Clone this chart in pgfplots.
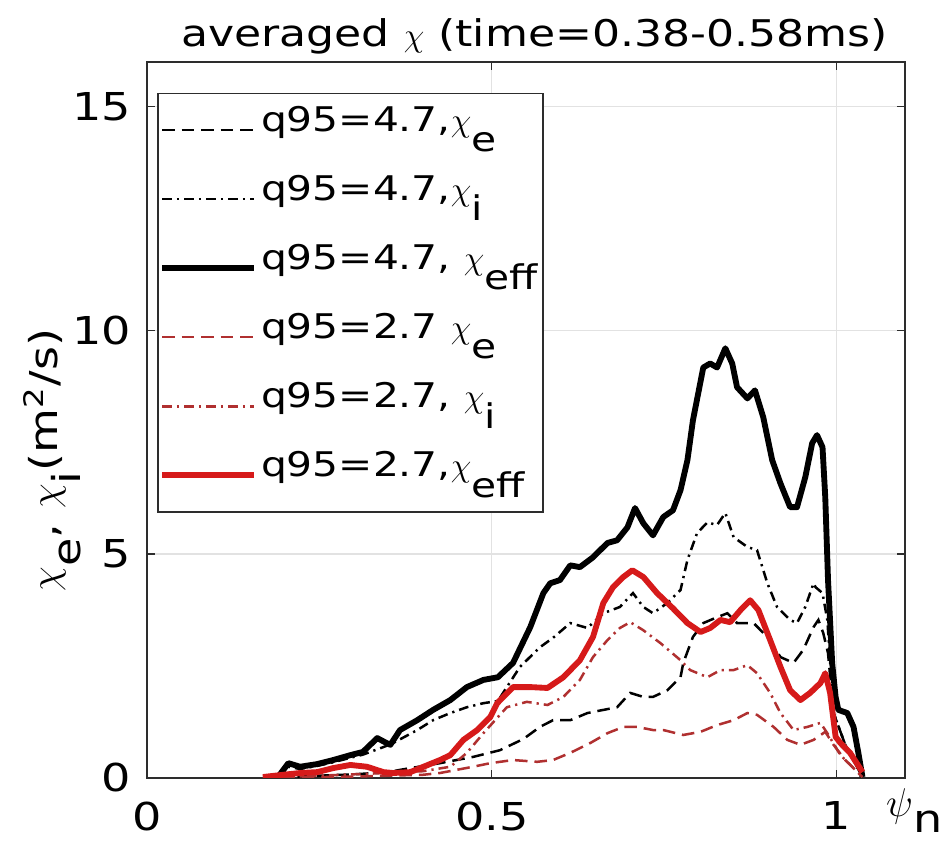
\documentclass[border=0pt]{standalone}
\usepackage{fontspec}
\setmainfont{DejaVu Sans}[FakeStretch=1.2]
\usepackage{pgfplots}
\pgfplotsset{compat=1.18}
\definecolor{myred}{RGB}{214,26,26}
\definecolor{mydred}{RGB}{176,48,48}
\definecolor{gridc}{RGB}{226,226,226}
\definecolor{axc}{RGB}{45,45,45}
\newcommand\sub[1]{\raisebox{-0.6em}{#1}}
\newcommand\fa{\fontsize{13.8}{15}\selectfont}
\newcommand\fl{\fontsize{12.2}{13.5}\selectfont}
\begin{document}
\begin{tikzpicture}
\useasboundingbox (-52.8pt,-23.7pt) rectangle (287.2pt,279.3pt);
\begin{axis}[
  scale only axis, width=272.2pt, height=257.1pt,
  xmin=0, xmax=1.1, ymin=0, ymax=16,
  xtick={0,0.5,1}, xticklabels={0,0.5,1},
  ytick={0,5,10,15}, yticklabels={0,5,10,15},
  /pgf/number format/assume math mode=true,
  tick label style={font=\fa},
  tick align=inside, major tick length=3pt,
  grid=major, major grid style={gridc, line width=0.5pt},
  axis line style={axc, line width=0.6pt},
  every tick/.style={axc, line width=0.5pt},
  xticklabel style={yshift=-5pt},
  yticklabel style={xshift=-2.2pt},
  title={averaged $\chi$ (time=0.38-0.58ms)},
  title style={font=\fontsize{13.2}{15}\selectfont, at={(0.5,1)}, anchor=base, yshift=-0.6pt, xshift=3pt},
  ylabel={$\chi$\sub{e}, $\chi$\sub{i}(m\textsuperscript{2}/s)},
  ylabel style={font=\fa, at={(rel axis cs:0,0.444)}, anchor=center, yshift=34pt},
  xlabel={$\psi$\raisebox{-0.42em}{n}},
  xlabel style={font=\fa, at={(rel axis cs:0.974,0)}, anchor=north west, inner sep=0pt, yshift=-3.5pt},
  legend style={at={(rel axis cs:0.013,0.957)}, anchor=north west, draw=axc, line width=0.6pt,
    font=\fl, inner xsep=0.5pt, inner ysep=5pt, row sep=8.6pt,
    nodes={inner ysep=0pt, inner xsep=1.5pt, text height=8.6pt, text depth=7.6pt}},
  legend cell align=left,
  legend image code/.code={\draw[#1] (0pt,0pt) -- (33pt,0pt);},
]
\addplot[black, line width=0.9pt, dash pattern=on 4.5pt off 2.5pt] coordinates {
(0.19,0.0) (0.25,0.05) (0.30,0.08) (0.35,0.13) (0.367,0.18) (0.425,0.33) (0.473,0.47)
(0.512,0.62) (0.546,0.87) (0.570,1.14) (0.589,1.29) (0.614,1.29) (0.639,1.45) (0.662,1.52)
(0.682,1.58) (0.701,1.90) (0.720,1.81) (0.734,1.81) (0.755,1.96) (0.774,2.25) (0.778,2.57)
(0.792,3.15) (0.807,3.46) (0.827,3.59) (0.842,3.68) (0.856,3.46) (0.880,3.46) (0.900,3.15)
(0.919,2.70) (0.938,2.57) (0.952,2.86) (0.967,3.37) (0.974,3.53) (0.981,3.24) (0.988,2.79)
(0.996,1.45) (1.013,0.74) (1.038,0.02)};
\addlegendentry{q95=4.7,$\chi$\sub{e}}
\addplot[black, line width=0.9pt, dash pattern=on 3.5pt off 1.8pt on 0.8pt off 1.8pt] coordinates {
(0.19,0.0) (0.205,0.25) (0.222,0.2) (0.247,0.27) (0.27,0.35) (0.295,0.45) (0.313,0.52)
(0.343,0.69) (0.357,0.78) (0.392,1.07) (0.415,1.29) (0.440,1.45) (0.464,1.58) (0.488,1.67)
(0.509,1.72) (0.541,2.48) (0.570,2.92) (0.589,3.13) (0.614,3.46) (0.639,3.35) (0.662,3.68)
(0.686,3.82) (0.705,4.13) (0.720,3.82) (0.734,3.68) (0.755,3.91) (0.774,4.20) (0.784,4.87)
(0.798,5.47) (0.813,5.71) (0.827,5.65) (0.839,5.92) (0.851,5.38) (0.871,5.16) (0.885,5.09)
(0.900,4.35) (0.914,3.82) (0.933,3.53) (0.943,3.46) (0.955,3.82) (0.967,4.35) (0.970,4.26)
(0.980,4.13) (0.987,3.53) (0.996,1.45) (1.013,0.74) (1.038,0.02)};
\addlegendentry{q95=4.7,$\chi$\sub{i}}
\addplot[black, line width=2.1pt, line join=round] coordinates {
(0.190,0.02) (0.205,0.33) (0.222,0.25) (0.247,0.31) (0.270,0.40) (0.295,0.51) (0.313,0.58)
(0.334,0.89) (0.345,0.80) (0.353,0.74) (0.367,1.07) (0.392,1.29) (0.415,1.52) (0.440,1.74)
(0.464,2.03) (0.488,2.19) (0.509,2.25) (0.531,2.57) (0.556,3.37) (0.575,4.13) (0.585,4.35)
(0.599,4.42) (0.614,4.75) (0.628,4.71) (0.647,4.93) (0.668,5.25) (0.682,5.31) (0.697,5.60)
(0.708,6.03) (0.720,5.69) (0.734,5.42) (0.749,5.83) (0.763,5.98) (0.774,6.43) (0.784,7.10)
(0.792,7.99) (0.807,9.17) (0.817,9.26) (0.827,9.17) (0.839,9.60) (0.849,9.26) (0.856,8.73)
(0.871,8.48) (0.882,8.66) (0.894,8.06) (0.907,7.10) (0.919,6.58) (0.933,6.05) (0.943,6.05)
(0.955,6.72) (0.965,7.48) (0.972,7.66) (0.980,7.39) (0.984,6.27) (0.988,4.42) (0.994,2.57)
(0.999,1.81) (1.003,1.52) (1.016,1.45) (1.025,1.14) (1.032,0.56) (1.038,0.02)};
\addlegendentry{q95=4.7, $\chi$\sub{eff}}
\addplot[mydred, line width=0.9pt, dash pattern=on 4.5pt off 2.5pt] coordinates {
(0.168,0.0) (0.30,0.03) (0.40,0.07) (0.425,0.11) (0.473,0.25) (0.498,0.33) (0.531,0.40)
(0.566,0.36) (0.589,0.40) (0.614,0.56) (0.643,0.78) (0.668,1.00) (0.691,1.14) (0.711,1.14)
(0.734,1.07) (0.749,1.07) (0.778,0.96) (0.803,1.03) (0.827,1.18) (0.851,1.29) (0.871,1.45)
(0.885,1.41) (0.909,1.14) (0.929,0.85) (0.948,0.74) (0.967,0.85) (0.984,1.03) (0.996,0.74)
(1.013,0.40) (1.038,0.02)};
\addlegendentry{q95=2.7 $\chi$\sub{e}}
\addplot[mydred, line width=0.9pt, dash pattern=on 3.5pt off 1.8pt on 0.8pt off 1.8pt] coordinates {
(0.168,0.0) (0.25,0.05) (0.33,0.10) (0.40,0.15) (0.440,0.25) (0.464,0.56) (0.488,1.00)
(0.522,1.58) (0.551,1.70) (0.581,1.63) (0.604,1.81) (0.628,2.19) (0.647,2.70) (0.668,3.08)
(0.686,3.35) (0.701,3.48) (0.720,3.30) (0.745,3.01) (0.774,2.63) (0.788,2.41) (0.813,2.25)
(0.832,2.41) (0.851,2.41) (0.871,2.52) (0.885,2.34) (0.904,1.90) (0.919,1.45) (0.938,1.07)
(0.958,1.14) (0.977,1.23) (0.987,1.00) (1.006,0.51) (1.038,0.02)};
\addlegendentry{q95=2.7, $\chi$\sub{i}}
\addplot[myred, line width=2.1pt, line join=round] coordinates {
(0.168,0.02) (0.197,0.07) (0.222,0.11) (0.247,0.13) (0.270,0.22) (0.295,0.29) (0.319,0.25)
(0.343,0.13) (0.357,0.11) (0.382,0.13) (0.401,0.25) (0.425,0.40) (0.440,0.51) (0.459,0.85)
(0.479,1.07) (0.498,1.36) (0.508,1.67) (0.531,2.03) (0.556,2.03) (0.581,2.01) (0.604,2.25)
(0.628,2.63) (0.647,3.15) (0.662,3.91) (0.676,4.26) (0.691,4.49) (0.704,4.64) (0.720,4.49)
(0.740,4.13) (0.763,3.79) (0.784,3.46) (0.803,3.26) (0.817,3.35) (0.832,3.53) (0.846,3.48)
(0.861,3.75) (0.875,3.97) (0.887,3.75) (0.904,3.08) (0.919,2.48) (0.933,1.96) (0.948,1.74)
(0.962,1.90) (0.977,2.12) (0.984,2.34) (0.991,1.90) (0.999,0.92) (1.006,0.78) (1.020,0.56)
(1.038,0.13)};
\addlegendentry{q95=2.7,$\chi$\sub{eff}}
\end{axis}
\end{tikzpicture}
\end{document}
